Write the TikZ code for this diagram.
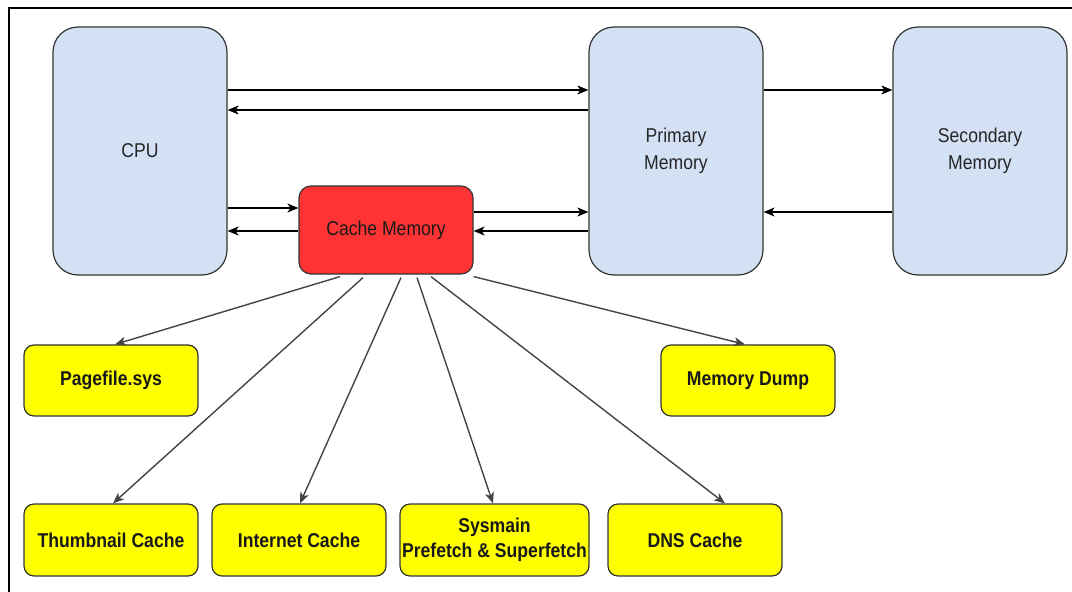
\documentclass[tikz,border=0pt]{standalone}
\usepackage{fontspec}
\setmainfont{Liberation Sans}[FakeStretch=0.88]
\usetikzlibrary{arrows.meta,calc}
\definecolor{memblue}{HTML}{D4E1F5}
\definecolor{cachered}{HTML}{FF3333}
\definecolor{leafyellow}{HTML}{FFFF00}
\definecolor{edgegray}{HTML}{333333}
\definecolor{linegray}{HTML}{444444}
\tikzset{
  membox/.style={draw=edgegray, line width=1.2pt, fill=memblue, rounded corners=25pt,
    minimum width=174pt, minimum height=248pt, inner sep=0pt, align=center,
    font=\fontsize{20}{27}\selectfont, text=black!85},
  cachebox/.style={draw=edgegray, line width=1.2pt, fill=cachered, rounded corners=12pt,
    minimum width=174pt, minimum height=88pt, inner sep=0pt, align=center,
    font=\fontsize{20}{24}\selectfont, text=black!90},
  leafbox/.style={draw=edgegray, line width=1.2pt, fill=leafyellow, rounded corners=10pt,
    minimum width=174pt, minimum height=71pt, inner sep=0pt, align=center,
    font=\fontsize{20}{25}\selectfont\bfseries, text=black!90},
  arr/.style={line width=1.5pt, draw=black, -{Stealth[length=11pt,width=9pt,inset=3pt]}},
  darr/.style={line width=1.4pt, draw=linegray, -{Stealth[length=11pt,width=9pt,inset=3pt]}},
  frameline/.style={line width=2pt, draw=black}
}
\begin{document}
\begin{tikzpicture}[x=1pt,y=-1pt]
\useasboundingbox (0,0) rectangle (1072,592);
\coordinate (ftl) at (9,8);
\coordinate (ftr) at (1072,8);
\coordinate (fbl) at (9,592);
\draw[frameline] (ftr) -- (ftl) -- (fbl);

\node[membox] (cpu) at (140,151) {CPU};
\node[membox] (prim) at (676,151) {Primary\\Memory};
\node[membox] (sec) at (980,151) {Secondary\\Memory};
\node[cachebox] (cache) at (386,230) {Cache Memory};

\node[leafbox] (page) at (111,380.5) {Pagefile.sys};
\node[leafbox] (dump) at (748,380.5) {Memory Dump};
\node[leafbox, minimum height=72pt] (thumb) at (111,540) {Thumbnail Cache};
\node[leafbox, minimum height=72pt] (inet) at (299,540) {Internet Cache};
\node[leafbox, minimum height=72pt, minimum width=189pt] (sys) at (494.5,540) {Sysmain\\Prefetch \& Superfetch};
\node[leafbox, minimum height=72pt] (dns) at (695,540) {DNS Cache};

% CPU <-> Primary
\draw[arr] (cpu.east |- 0,90) -- (prim.west |- 0,90);
\draw[arr] (prim.west |- 0,110) -- (cpu.east |- 0,110);
% Primary <-> Secondary
\draw[arr] (prim.east |- 0,90) -- (sec.west |- 0,90);
\draw[arr] (sec.west |- 0,212) -- (prim.east |- 0,212);
% CPU <-> Cache
\draw[arr] (cpu.east |- 0,208) -- (cache.west |- 0,208);
\draw[arr] (cache.west |- 0,231) -- (cpu.east |- 0,231);
% Cache <-> Primary
\draw[arr] (cache.east |- 0,212) -- (prim.west |- 0,212);
\draw[arr] (prim.west |- 0,231) -- (cache.east |- 0,231);

% Cache -> leaves
\draw[darr] ($(cache.south)+(-46,2)$) -- ($(page.north)+(4,0)$);
\draw[darr] ($(cache.south)+(-23,3)$) -- ($(thumb.north)+(2,0)$);
\draw[darr] ($(cache.south)+(15,3)$) -- ($(inet.north)+(1,0)$);
\draw[darr] ($(cache.south)+(31,3)$) -- ($(sys.north)+(-1.5,0)$);
\draw[darr] ($(cache.south)+(45,2)$) -- ($(dns.north)+(30,0)$);
\draw[darr] ($(cache.south east)+(0,2)$) -- ($(dump.north)+(-3,0)$);
\end{tikzpicture}
\end{document}
